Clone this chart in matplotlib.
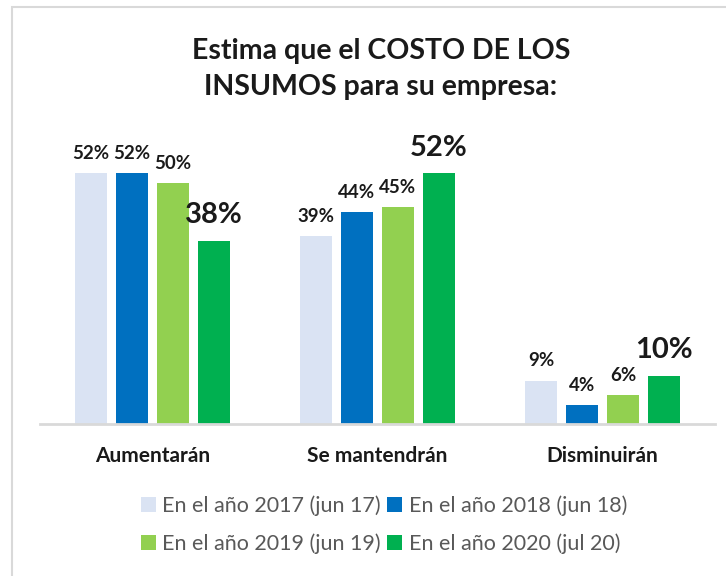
import numpy as np
import matplotlib.pyplot as plt
from matplotlib.patches import Rectangle, Patch

plt.rcParams['font.family'] = ['Lato', 'DejaVu Sans']

# Data
categories = ['Aumentarán', 'Se mantendrán', 'Disminuirán']
series = ['En el año 2017 (jun 17)', 'En el año 2018 (jun 18)',
          'En el año 2019 (jun 19)', 'En el año 2020 (jul 20)']
v2017 = [52, 39, 9]
v2018 = [52, 44, 4]
v2019 = [50, 45, 6]
v2020 = [38, 52, 10]
values = [v2017, v2018, v2019, v2020]
colors = ['#dae3f3', '#0070c0', '#92d050', '#00b050']

W, H = 726, 576
fig = plt.figure(figsize=(W / 100, H / 100), dpi=100)

# light frame (top/left visible, rest cropped)
fig.patches.append(Rectangle((12 / W, -0.1), 1.2, 1 - 7 / H + 0.1,
                             transform=fig.transFigure, fill=False,
                             edgecolor='#d9d9d9', linewidth=1.5))

ax = fig.add_axes([40 / W, 1 - 424 / H, 675 / W, 289.6 / H])
x = np.arange(len(categories))
step = 0.182
width = 0.142
for i, (vals, col) in enumerate(zip(values, colors)):
    pos = x + (i - 1.5) * step
    ax.bar(pos, vals, width, color=col, label=series[i])
    big = (i == 3)
    for p, v in zip(pos, vals):
        ax.annotate(f'{v}%', (p, v), xytext=(0, 9 if big else 8),
                    textcoords='offset points', ha='center', va='bottom',
                    fontsize=21 if big else 13.5, fontweight='bold',
                    color='#1a1a1a')

ax.set_xlim(-0.5, 2.5)
ax.set_ylim(0, 60)
ax.set_yticks([])
for s in ['top', 'right', 'left']:
    ax.spines[s].set_visible(False)
ax.spines['bottom'].set_color('#d9d9d9')
ax.spines['bottom'].set_linewidth(2)
ax.set_xticks(x)
ax.set_xticklabels(categories, fontsize=15, fontweight='bold', color='#1a1a1a')
ax.tick_params(axis='x', length=0, pad=16)

fig.text(381 / W, 1 - 69 / H, 'Estima que el COSTO DE LOS\nINSUMOS para su empresa:',
         ha='center', va='center', fontsize=20.5, fontweight='bold',
         linespacing=1.5, color='#1a1a1a')

# row-major legend order for ncol=2
order = [0, 2, 1, 3]
handles = [Patch(facecolor=colors[k], edgecolor='none') for k in order]
labels = [series[k] for k in order]
fig.legend(handles, labels, loc='center', bbox_to_anchor=(384 / W, 1 - 525 / H),
           ncol=2, frameon=False, fontsize=15.5, labelcolor='#595959',
           handlelength=0.7, handleheight=0.7, handletextpad=0.3,
           columnspacing=0.3, labelspacing=0.8)

fig.savefig('out.png', dpi=100)
